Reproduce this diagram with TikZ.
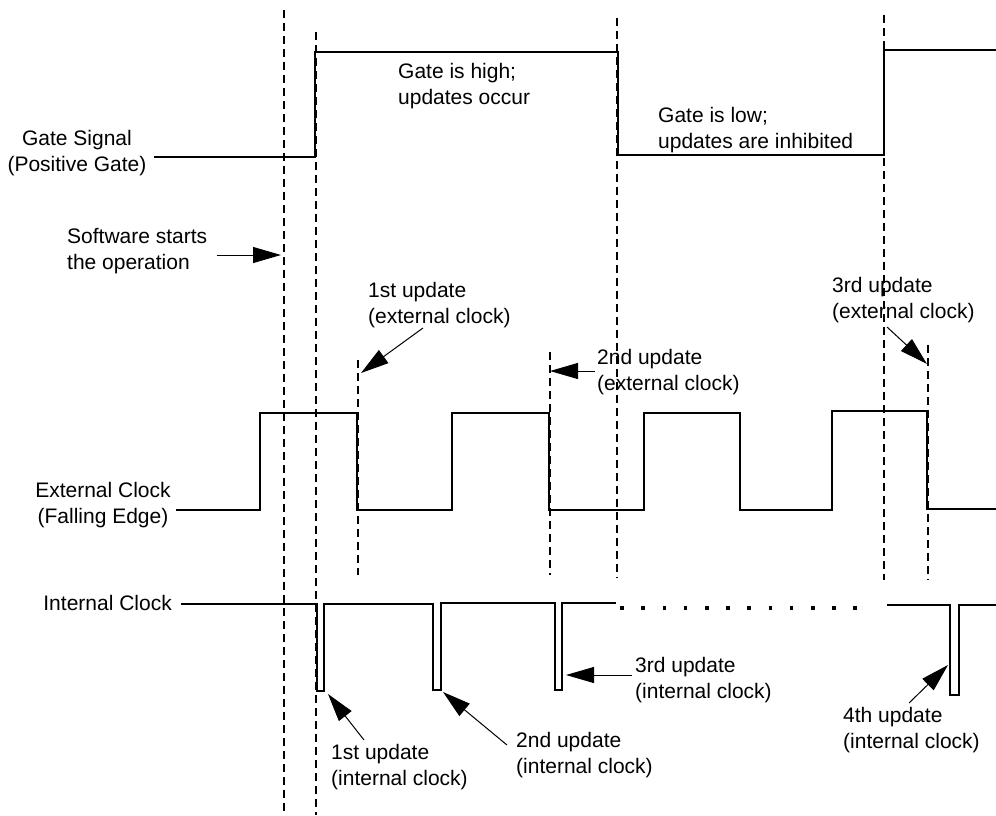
\documentclass[tikz,border=0pt]{standalone}
\usepackage{fontspec}
\setmainfont{Liberation Sans}
\usetikzlibrary{arrows.meta}
\begin{document}
\begin{tikzpicture}[x=1pt,y=-1pt,
  sig/.style={line width=1.3pt, line join=miter, line cap=rect},
  guide/.style={line width=1.1pt, dash pattern=on 8pt off 5pt},
  lbl/.style={inner sep=0pt, align=left, anchor=west, font=\fontsize{21}{26.5}\selectfont},
  clbl/.style={inner sep=0pt, align=center, font=\fontsize{21}{26.5}\selectfont},
  pointer/.style={line width=1pt, -{Triangle[length=28pt,width=16pt]}},
]
\useasboundingbox (0,0) rectangle (996,815);

% ---------- guides ----------
\draw[guide] (284,10) -- (284,815);
\draw[guide] (316,32) -- (316,815);
\draw[guide] (358,360) -- (358,575);
\draw[guide] (550,352) -- (550,575);
\draw[guide] (617,18) -- (617,578);
\draw[guide] (884,15) -- (884,580);
\draw[guide] (928,345) -- (928,580);

% ---------- signals ----------
\draw[sig] (155,157) -- (315,157) -- (315,52) -- (618,52) -- (618,155) -- (884,155) -- (884,50) -- (996,50);
\draw[sig] (177,510) -- (260,510) -- (260,413) -- (357,413) -- (357,510) -- (452,510) -- (452,413) -- (549,413) -- (549,510)
  -- (644,510) -- (644,413) -- (740,413) -- (740,510) -- (832,510) -- (832,411) -- (927,411) -- (927,509) -- (996,509);
\draw[sig] (182,604) -- (317,604) -- (317,691) -- (324,691) -- (324,604) -- (433,604) -- (433,690) -- (441,690) -- (441,603)
  -- (555,603) -- (555,690) -- (562,690) -- (562,603) -- (615,603);
\foreach \i in {0,...,11} \fill ({622+21.2*\i-1.8},606.2) rectangle ++(3.6,3.6);
\draw[sig] (888,605) -- (950,605) -- (950,695) -- (959,695) -- (959,605) -- (996,605);

% ---------- labels ----------
\node[clbl] (gs) at (77,153) {Gate Signal\\(Positive Gate)};
\node[clbl] (ec) at (103,505) {External Clock\\(Falling Edge)};
\node[lbl, anchor=east] (ic) at (172,603) {Internal Clock};
\node[lbl] (sw) at (67,251) {Software starts\\the operation};
\node[lbl] (gh) at (398,86) {Gate is high;\\updates occur};
\node[lbl] (gl) at (658,130) {Gate is low;\\updates are inhibited};
\node[lbl] (e1) at (368,305) {1st update\\(external clock)};
\node[lbl] (e2) at (597,372) {2nd update\\(external clock)};
\node[lbl] (e3) at (832,300) {3rd update\\(external clock)};
\node[lbl] (i1) at (331,767) {1st update\\(internal clock)};
\node[lbl] (i2) at (516,755) {2nd update\\(internal clock)};
\node[lbl] (i3) at (635,680) {3rd update\\(internal clock)};
\node[lbl] (i4) at (843,730) {4th update\\(internal clock)};

% ---------- pointers ----------
\coordinate (swS) at (217,255); \coordinate (swE) at (281,255);
\coordinate (e1S) at (423,328); \coordinate (e1E) at (361,373);
\coordinate (e2S) at (595,371); \coordinate (e2E) at (550,371);
\coordinate (e3S) at (887,327); \coordinate (e3E) at (927,364);
\coordinate (i1S) at (364,740); \coordinate (i1E) at (328,694);
\coordinate (i2S) at (507,745); \coordinate (i2E) at (443,692);
\coordinate (i3S) at (632,675); \coordinate (i3E) at (566,675);
\coordinate (i4S) at (909,703); \coordinate (i4E) at (948,665);
\draw[pointer] (swS) -- (swE);
\draw[pointer] (e1S) -- (e1E);
\draw[pointer] (e2S) -- (e2E);
\draw[pointer] (e3S) -- (e3E);
\draw[pointer] (i1S) -- (i1E);
\draw[pointer] (i2S) -- (i2E);
\draw[pointer] (i3S) -- (i3E);
\draw[pointer] (i4S) -- (i4E);
\end{tikzpicture}
\end{document}
